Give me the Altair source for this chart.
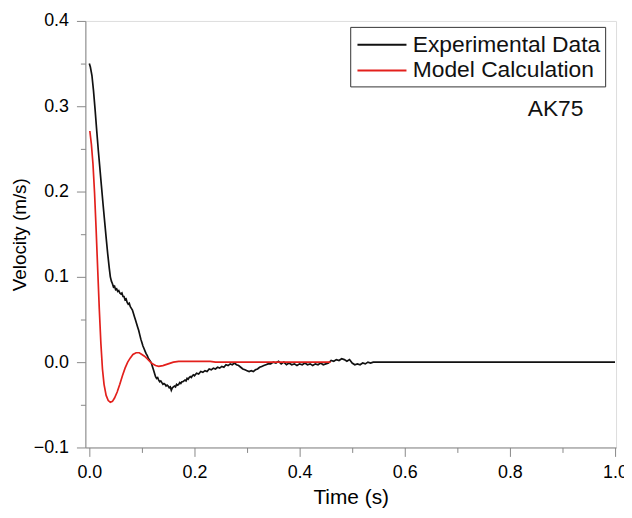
import altair as alt
import pandas as pd

# ---- data ----
exp_t = [0.000, 0.002, 0.005, 0.008, 0.011, 0.014, 0.017, 0.020, 0.023, 0.026,
         0.029, 0.032, 0.035, 0.038, 0.040, 0.042, 0.044, 0.046, 0.048, 0.050,
         0.052, 0.054, 0.056, 0.058, 0.060, 0.062, 0.064, 0.066, 0.068, 0.070,
         0.072, 0.074, 0.076, 0.078, 0.080, 0.082, 0.084, 0.086, 0.088, 0.090,
         0.092, 0.094, 0.096, 0.098, 0.100, 0.102, 0.104, 0.106, 0.108, 0.110,
         0.112, 0.114, 0.116, 0.118, 0.120, 0.122, 0.124, 0.126, 0.128, 0.130,
         0.132, 0.134, 0.136, 0.138, 0.140, 0.142, 0.144, 0.146, 0.148, 0.150,
         0.152, 0.154, 0.156, 0.158, 0.160, 0.162, 0.164, 0.166, 0.168, 0.170,
         0.172, 0.174, 0.176, 0.178, 0.180, 0.182, 0.184, 0.186, 0.188, 0.190,
         0.192, 0.194, 0.196, 0.198, 0.200, 0.204, 0.208, 0.212, 0.216, 0.220,
         0.224, 0.228, 0.232, 0.236, 0.240, 0.244, 0.248, 0.252, 0.256, 0.260,
         0.264, 0.268, 0.272, 0.276, 0.280, 0.284, 0.288, 0.292, 0.296, 0.300,
         0.304, 0.308, 0.312, 0.316, 0.320, 0.324, 0.328, 0.332, 0.336, 0.340,
         0.345, 0.350, 0.355, 0.360, 0.365, 0.370, 0.375, 0.380, 0.385, 0.390,
         0.395, 0.400, 0.405, 0.410, 0.415, 0.420, 0.425, 0.430, 0.435, 0.440,
         0.445, 0.450, 0.455, 0.460, 0.465, 0.470, 0.475, 0.480, 0.485, 0.490,
         0.495, 0.500, 0.505, 0.510, 0.515, 0.520, 0.525, 0.530, 0.535, 0.540,
         0.550, 0.560, 1.000]
exp_v = [0.350, 0.346, 0.336, 0.318, 0.296, 0.272, 0.249, 0.228, 0.207, 0.186,
         0.166, 0.146, 0.127, 0.110, 0.100, 0.095, 0.092, 0.088, 0.089, 0.085,
         0.086, 0.083, 0.084, 0.081, 0.080, 0.081, 0.077, 0.077, 0.073, 0.074,
         0.070, 0.068, 0.069, 0.065, 0.063, 0.061, 0.057, 0.053, 0.049, 0.045,
         0.041, 0.037, 0.032, 0.027, 0.023, 0.019, 0.016, 0.013, 0.010, 0.008,
         0.005, 0.003, 0.001, -0.001, -0.005, -0.009, -0.013, -0.017, -0.019, -0.018,
         -0.021, -0.023, -0.022, -0.024, -0.026, -0.025, -0.026, -0.028, -0.027, -0.028,
         -0.030, -0.029, -0.033, -0.030, -0.029, -0.028, -0.029, -0.026, -0.027, -0.026,
         -0.024, -0.025, -0.023, -0.023, -0.022, -0.021, -0.022, -0.019, -0.020, -0.018,
         -0.017, -0.018, -0.016, -0.015, -0.016, -0.013, -0.014, -0.011, -0.012, -0.010,
         -0.011, -0.008, -0.009, -0.007, -0.008, -0.006, -0.007, -0.005, -0.006, -0.003,
         -0.004, -0.002, -0.003, -0.001, -0.003, -0.004, -0.006, -0.008, -0.009, -0.010,
         -0.011, -0.010, -0.011, -0.009, -0.008, -0.006, -0.005, -0.004, -0.003, -0.002,
         -0.002, 0.000, -0.001, 0.001, -0.002, 0.000, -0.003, -0.001, -0.003, -0.002,
         -0.004, -0.002, -0.003, -0.001, -0.003, -0.002, -0.004, -0.002, -0.003, -0.001,
         -0.003, -0.002, -0.001, 0.002, 0.001, 0.003, 0.002, 0.004, 0.003, 0.001,
         0.003, -0.001, -0.003, -0.002, -0.003, -0.001, -0.002, 0.000, -0.001, 0.000,
         0.000, 0.000, 0.000]

mod_t = [0.001, 0.004, 0.007, 0.010, 0.013, 0.016, 0.019, 0.022, 0.025, 0.028,
         0.032, 0.036, 0.040, 0.044, 0.048, 0.053, 0.058, 0.063, 0.068, 0.073,
         0.078, 0.083, 0.089, 0.095, 0.100, 0.105, 0.110, 0.115, 0.120, 0.126,
         0.132, 0.140, 0.150, 0.160, 0.170, 0.230, 0.240, 0.459]
mod_v = [0.271, 0.255, 0.232, 0.198, 0.155, 0.108, 0.062, 0.022, -0.008, -0.026,
         -0.039, -0.045, -0.047, -0.046, -0.042, -0.035, -0.026, -0.016, -0.007, 0.000,
         0.005, 0.009, 0.011, 0.011, 0.009, 0.007, 0.004, 0.001, -0.002, -0.004,
         -0.005, -0.004, -0.002, 0.000, 0.001, 0.001, 0.000, 0.000]

series_names = ["Experimental Data", "Model Calculation"]
series_colors = ["#111111", "#e3201c"]

x_all_ticks = [0.0, 0.1, 0.2, 0.3, 0.4, 0.5, 0.6, 0.7, 0.8, 0.9, 1.0]
y_all_ticks = [-0.1, -0.05, 0.0, 0.05, 0.1, 0.15, 0.2, 0.25, 0.3, 0.35, 0.4]

annot_text = ["AK75"]
annot_x = [0.940]
annot_y = [0.297]

df = pd.concat([
    pd.DataFrame({"t": exp_t, "v": exp_v, "series": series_names[0], "ord": range(len(exp_t))}),
    pd.DataFrame({"t": mod_t, "v": mod_v, "series": series_names[1], "ord": range(len(mod_t))}),
])
ann = pd.DataFrame({"t": annot_x, "v": annot_y, "label": annot_text})

FONT = "Liberation Sans"
AX = "#555555"

x_scale = alt.Scale(domain=[-0.0075, 1.002], nice=False, zero=False)
y_scale = alt.Scale(domain=[-0.1, 0.4], nice=False, zero=False)

x_axis = alt.Axis(
    title="Time (s)", values=x_all_ticks,
    labelExpr="round(datum.value*10) % 2 == 0 ? format(datum.value, '.1f') : ''",
    tickSize={"condition": {"test": "round(datum.value*10) % 2 == 0", "value": 9}, "value": 5},
    labelPadding=7, titlePadding=5, grid=False,
    labelFontSize=18, titleFontSize=21, titleFontWeight="normal",
)
y_axis = alt.Axis(
    title="Velocity (m/s)", values=y_all_ticks,
    labelExpr="round(datum.value*100) % 10 == 0 ? format(datum.value, '.1f') : ''",
    tickSize={"condition": {"test": "round(datum.value*100) % 10 == 0", "value": 9}, "value": 5},
    labelPadding=8, titlePadding=4, grid=False,
    labelFontSize=18, titleFontSize=19, titleFontWeight="normal",
)

lines = alt.Chart(df).mark_line(strokeWidth=1.7, interpolate="linear").encode(
    x=alt.X("t:Q", scale=x_scale, axis=x_axis),
    y=alt.Y("v:Q", scale=y_scale, axis=y_axis),
    color=alt.Color("series:N",
                    scale=alt.Scale(domain=series_names, range=series_colors),
                    legend=alt.Legend(title=None, orient="none", legendX=267, legendY=6,
                                      symbolType="M -1.9 0 L 1.9 0", symbolSize=676,
                                      symbolOffset=14,
                                      symbolStrokeWidth=2, labelFontSize=23,
                                      labelFont=FONT, labelColor="#111",
                                      labelExpr="datum.label + ' '",
                                      labelOffset=17, rowPadding=0, padding=4,
                                      strokeColor="#333", fillColor="white",
                                      labelLimit=400)),
    order="ord:Q",
    detail="series:N",
)

text = alt.Chart(ann).mark_text(align="right", baseline="middle", fontSize=23,
                                 font=FONT, color="#111").encode(
    x=alt.X("t:Q", scale=x_scale),
    y=alt.Y("v:Q", scale=y_scale),
    text="label:N",
)

chart = alt.layer(lines, text).properties(
    width=535, height=430,
    autosize=alt.AutoSizeParams(type="none"),
    padding={"left": 78, "top": 11, "right": 8, "bottom": 60},
).configure_view(
    stroke="#333333", strokeWidth=1.5,
).configure_axis(
    domainColor=AX, domainWidth=1.5, tickColor=AX, tickWidth=1.5,
    labelFont=FONT, titleFont=FONT, labelColor="#222", titleColor="#111",
).configure(background="white")

chart.save("out.html", embed_options={"renderer": "svg", "actions": False})
